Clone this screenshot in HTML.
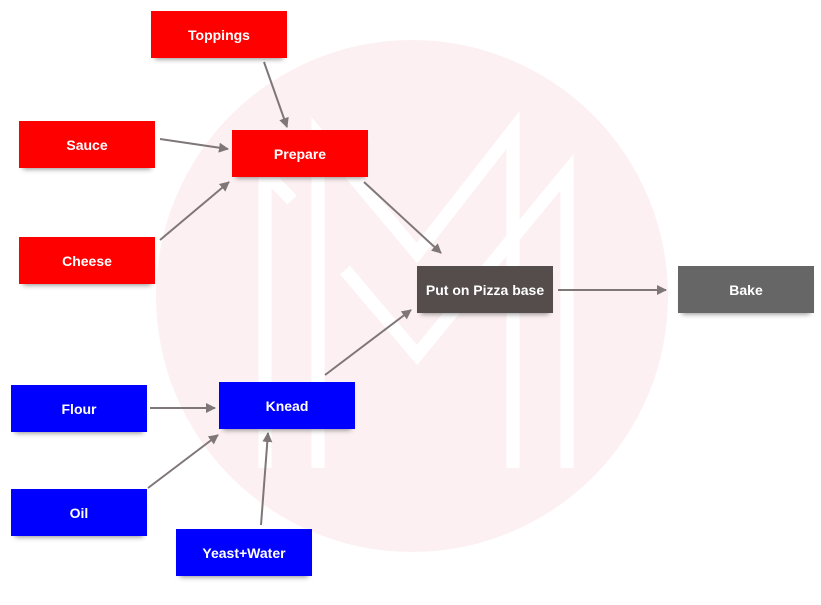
<!DOCTYPE html>
<html><head><style>
body{margin:0;width:821px;height:605px;background:#fff;overflow:hidden;position:relative;font-family:"Liberation Sans",sans-serif}
.b{position:absolute;width:136px;height:47px;color:#fff;font-weight:bold;font-size:14px;display:flex;align-items:center;justify-content:center;box-shadow:0 5px 5px -4px rgba(0,0,0,.45)}
.r{background:#ff0000}.u{background:#0000ff}
svg{position:absolute;left:0;top:0}
</style></head><body>
<svg width="821" height="605">
<circle cx="412" cy="296" r="256" fill="#fcf0f2"/>
<g stroke="#fff" stroke-width="13" fill="none" stroke-linejoin="miter">
<polyline points="265,468 265,172 292,200"/>
<polyline points="318,468 318,135 417,253 513,130 513,468"/>
<polyline points="345,270 417,355 567,172 567,468"/>
</g>
<defs><marker id="a" markerWidth="10" markerHeight="10" refX="9" refY="5" orient="auto" markerUnits="userSpaceOnUse"><path d="M0,0 L10,5 L0,10 z" fill="#7f7777"/></marker></defs>
<g stroke="#7f7777" stroke-width="2" marker-end="url(#a)">
<line x1="264" y1="62" x2="287" y2="127"/>
<line x1="160" y1="139" x2="228" y2="149"/>
<line x1="160" y1="240" x2="229" y2="182"/>
<line x1="364" y1="182" x2="441" y2="253"/>
<line x1="558" y1="290" x2="666" y2="290"/>
<line x1="325" y1="375" x2="411" y2="310"/>
<line x1="150" y1="408" x2="215" y2="408"/>
<line x1="148" y1="488" x2="218" y2="435"/>
<line x1="261" y1="525" x2="268" y2="433"/>
</g>
</svg>
<div class="b r" style="left:151px;top:11px">Toppings</div>
<div class="b r" style="left:19px;top:121px">Sauce</div>
<div class="b r" style="left:232px;top:130px">Prepare</div>
<div class="b r" style="left:19px;top:237px">Cheese</div>
<div class="b" style="left:417px;top:266px;background:#554c4c">Put on Pizza base</div>
<div class="b" style="left:678px;top:266px;background:#666">Bake</div>
<div class="b u" style="left:11px;top:385px">Flour</div>
<div class="b u" style="left:219px;top:382px">Knead</div>
<div class="b u" style="left:11px;top:489px">Oil</div>
<div class="b u" style="left:176px;top:529px">Yeast+Water</div>
</body></html>
